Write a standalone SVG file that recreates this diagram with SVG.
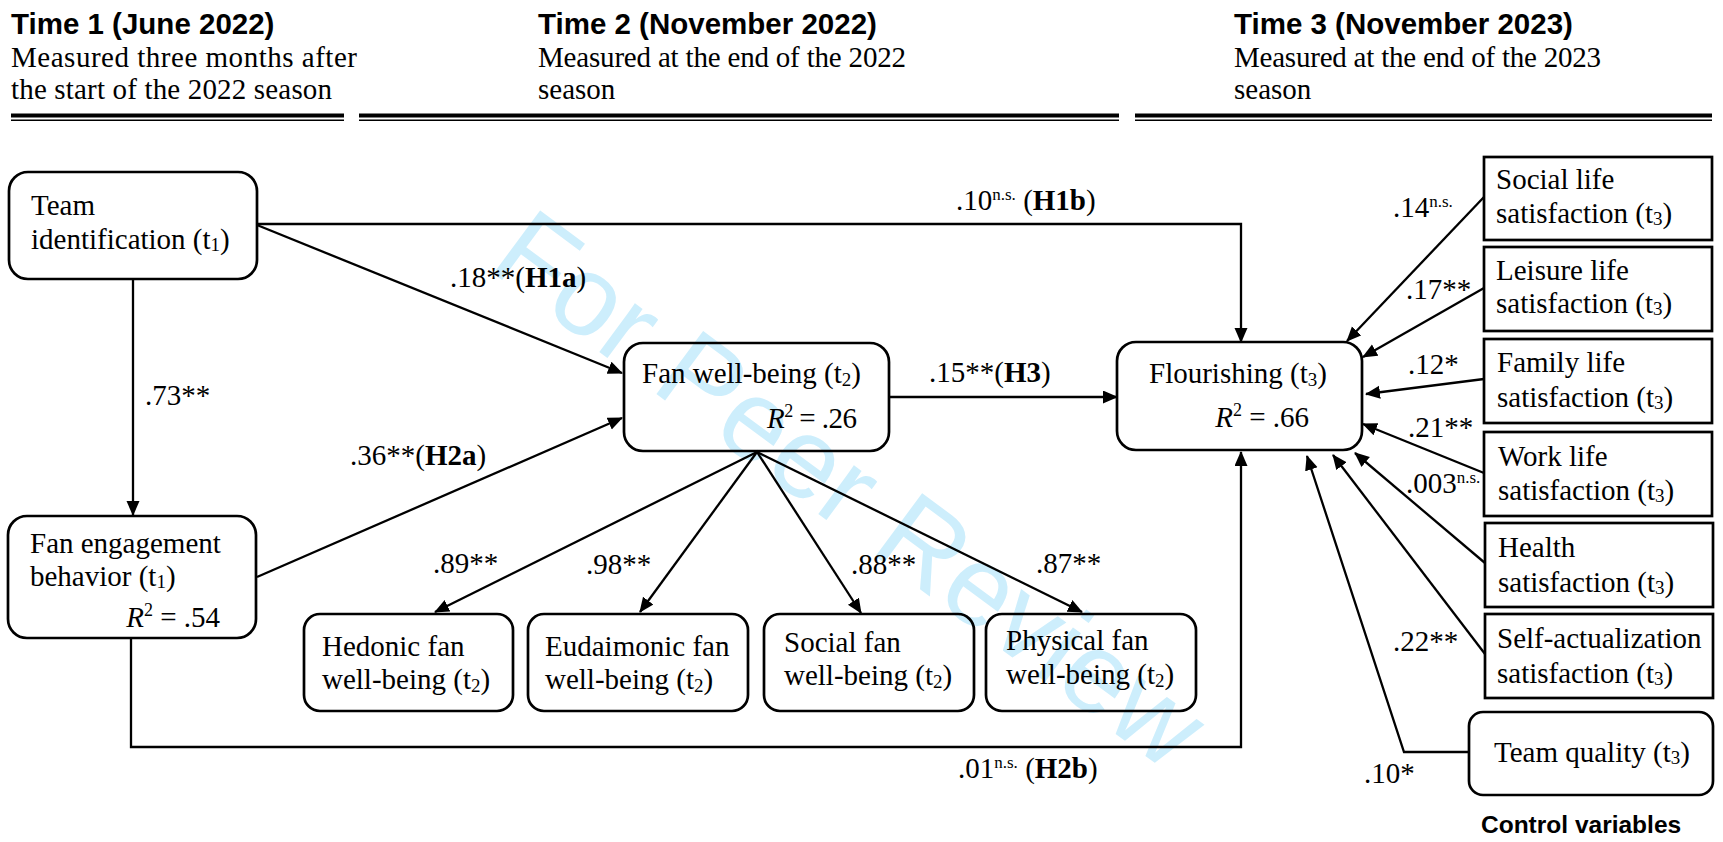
<svg xmlns="http://www.w3.org/2000/svg" width="1723" height="842" viewBox="0 0 1723 842">
<defs>
<marker id="ah" markerUnits="userSpaceOnUse" markerWidth="16" markerHeight="14" refX="14" refY="6.5" orient="auto">
<path d="M0,0 L15,6.5 L0,13 z" fill="#000"/>
</marker>
<style>
.box{fill:none;stroke:#000;stroke-width:2.7}
.t{font-family:"Liberation Serif","Times New Roman",serif;font-size:29px;fill:#000}
.h{font-family:"Liberation Sans",Arial,sans-serif;font-weight:bold;font-size:29.5px;fill:#000}
.c{stroke:#000;stroke-width:2.3;fill:none;marker-end:url(#ah)}
.wm{font-family:"Liberation Sans",Arial,sans-serif;font-size:114px;fill:#cdeefc}
.sub{font-size:19px}
.sup{font-size:18px}
.ns{font-size:17px}
.b{font-weight:bold}
.i{font-style:italic}
</style>
</defs>
<rect width="1723" height="842" fill="#fff"/>
<text class="wm" transform="translate(486,268) rotate(36.5)">For Peer Review</text>

<g id="header">
<text class="h" x="11" y="34">Time 1 (June 2022)</text>
<text class="t" x="11" y="67" textLength="346" lengthAdjust="spacing">Measured three months after</text>
<text class="t" x="11" y="99" textLength="321" lengthAdjust="spacing">the start of the 2022 season</text>
<text class="h" x="538" y="34">Time 2 (November 2022)</text>
<text class="t" x="538" y="67" textLength="368" lengthAdjust="spacing">Measured at the end of the 2022</text>
<text class="t" x="538" y="99">season</text>
<text class="h" x="1234" y="34">Time 3 (November 2023)</text>
<text class="t" x="1234" y="67" textLength="367" lengthAdjust="spacing">Measured at the end of the 2023</text>
<text class="t" x="1234" y="99">season</text>
<rect x="11" y="113.5" width="333" height="4" fill="#000"/>
<rect x="11" y="119.5" width="333" height="1.5" fill="#000"/>
<rect x="359" y="113.5" width="760" height="4" fill="#000"/>
<rect x="359" y="119.5" width="760" height="1.5" fill="#000"/>
<rect x="1135" y="113.5" width="577" height="4" fill="#000"/>
<rect x="1135" y="119.5" width="577" height="1.5" fill="#000"/>
</g>

<g id="connectors">
<path class="c" d="M257,224 H1241 V342"/>
<line class="c" x1="257" y1="225" x2="622" y2="373"/>
<line class="c" x1="133" y1="279" x2="133" y2="515"/>
<line class="c" x1="257" y1="577" x2="622" y2="418"/>
<line class="c" x1="889" y1="397" x2="1117" y2="397"/>
<line class="c" x1="757" y1="452" x2="435" y2="612"/>
<line class="c" x1="757" y1="452" x2="640" y2="612"/>
<line class="c" x1="757" y1="452" x2="861" y2="613"/>
<line class="c" x1="757" y1="452" x2="1082" y2="612"/>
<path class="c" d="M131,638 V747 H1241 V452"/>
<line class="c" x1="1484" y1="197" x2="1347" y2="341"/>
<line class="c" x1="1484" y1="288" x2="1363" y2="357"/>
<line class="c" x1="1484" y1="379" x2="1366" y2="394"/>
<line class="c" x1="1484" y1="473" x2="1363" y2="424"/>
<line class="c" x1="1485" y1="563" x2="1355" y2="453"/>
<line class="c" x1="1485" y1="654" x2="1333" y2="455"/>
<path class="c" d="M1469,752 H1404 L1307,456"/>
</g>

<g id="labels">
<text class="t" x="956" y="210">.10<tspan class="ns" dy="-10">n.s.</tspan><tspan dy="10"> (</tspan><tspan class="b">H1b</tspan>)</text>
<text class="t" x="450" y="287">.18**(<tspan class="b">H1a</tspan>)</text>
<text class="t" x="145" y="405">.73**</text>
<text class="t" x="350" y="465">.36**(<tspan class="b">H2a</tspan>)</text>
<text class="t" x="929" y="382">.15**(<tspan class="b">H3</tspan>)</text>
<text class="t" x="433" y="573">.89**</text>
<text class="t" x="586" y="574">.98**</text>
<text class="t" x="851" y="574">.88**</text>
<text class="t" x="1036" y="573">.87**</text>
<text class="t" x="958" y="778">.01<tspan class="ns" dy="-10">n.s.</tspan><tspan dy="10"> (</tspan><tspan class="b">H2b</tspan>)</text>
<text class="t" x="1393" y="217">.14<tspan class="ns" dy="-10">n.s.</tspan></text>
<text class="t" x="1406" y="299">.17**</text>
<text class="t" x="1408" y="374">.12*</text>
<text class="t" x="1408" y="437">.21**</text>
<text class="t" x="1406" y="493">.003<tspan class="ns" dy="-10">n.s.</tspan></text>
<text class="t" x="1393" y="651">.22**</text>
<text class="t" x="1364" y="783">.10*</text>
</g>

<g id="team-identification">
<rect class="box" x="9" y="172" width="248" height="107" rx="19"/>
<text class="t" x="31" y="215">Team</text>
<text class="t" x="31" y="249">identification (t<tspan class="sub" dy="2">1</tspan><tspan dy="-2">)</tspan></text>
</g>
<g id="fan-engagement">
<rect class="box" x="8" y="516" width="248" height="122" rx="19"/>
<text class="t" x="30" y="553">Fan engagement</text>
<text class="t" x="30" y="586">behavior (t<tspan class="sub" dy="2">1</tspan><tspan dy="-2">)</tspan></text>
<text class="t" x="220" y="627" text-anchor="end"><tspan class="i">R</tspan><tspan class="sup" dy="-11">2</tspan><tspan dy="11"> = .54</tspan></text>
</g>
<g id="fan-well-being">
<rect class="box" x="624" y="343" width="265" height="108" rx="19"/>
<text class="t" x="642" y="383">Fan well-being (t<tspan class="sub" dy="3">2</tspan><tspan dy="-3">)</tspan></text>
<text class="t" x="767" y="428" textLength="90" lengthAdjust="spacing"><tspan class="i">R</tspan><tspan class="sup" dy="-11">2</tspan><tspan dy="11"> = .26</tspan></text>
</g>
<g id="flourishing">
<rect class="box" x="1117" y="342" width="245" height="108" rx="19"/>
<text class="t" x="1149" y="383">Flourishing (t<tspan class="sub" dy="3">3</tspan><tspan dy="-3">)</tspan></text>
<text class="t" x="1309" y="427" text-anchor="end"><tspan class="i">R</tspan><tspan class="sup" dy="-11">2</tspan><tspan dy="11"> = .66</tspan></text>
</g>
<g id="hedonic">
<rect class="box" x="304" y="614" width="209" height="97" rx="16"/>
<text class="t" x="322" y="656">Hedonic fan</text>
<text class="t" x="322" y="689">well-being (t<tspan class="sub" dy="3">2</tspan><tspan dy="-3">)</tspan></text>
</g>
<g id="eudaimonic">
<rect class="box" x="528" y="614" width="220" height="97" rx="16"/>
<text class="t" x="545" y="656">Eudaimonic fan</text>
<text class="t" x="545" y="689">well-being (t<tspan class="sub" dy="3">2</tspan><tspan dy="-3">)</tspan></text>
</g>
<g id="social-fan">
<rect class="box" x="764" y="614" width="210" height="97" rx="16"/>
<text class="t" x="784" y="652">Social fan</text>
<text class="t" x="784" y="685">well-being (t<tspan class="sub" dy="3">2</tspan><tspan dy="-3">)</tspan></text>
</g>
<g id="physical-fan">
<rect class="box" x="986" y="614" width="210" height="97" rx="16"/>
<text class="t" x="1006" y="650">Physical fan</text>
<text class="t" x="1006" y="684">well-being (t<tspan class="sub" dy="3">2</tspan><tspan dy="-3">)</tspan></text>
</g>
<g id="social-life">
<rect class="box" x="1484" y="157" width="228" height="83"/>
<text class="t" x="1496" y="189">Social life</text>
<text class="t" x="1496" y="223">satisfaction (t<tspan class="sub" dy="2">3</tspan><tspan dy="-2">)</tspan></text>
</g>
<g id="leisure-life">
<rect class="box" x="1484" y="247" width="228" height="84"/>
<text class="t" x="1496" y="280">Leisure life</text>
<text class="t" x="1496" y="313">satisfaction (t<tspan class="sub" dy="2">3</tspan><tspan dy="-2">)</tspan></text>
</g>
<g id="family-life">
<rect class="box" x="1484" y="339" width="228" height="84"/>
<text class="t" x="1497" y="372">Family life</text>
<text class="t" x="1497" y="407">satisfaction (t<tspan class="sub" dy="2">3</tspan><tspan dy="-2">)</tspan></text>
</g>
<g id="work-life">
<rect class="box" x="1484" y="432" width="228" height="84"/>
<text class="t" x="1498" y="466">Work life</text>
<text class="t" x="1498" y="500">satisfaction (t<tspan class="sub" dy="2">3</tspan><tspan dy="-2">)</tspan></text>
</g>
<g id="health">
<rect class="box" x="1485" y="523" width="228" height="84"/>
<text class="t" x="1498" y="557">Health</text>
<text class="t" x="1498" y="592">satisfaction (t<tspan class="sub" dy="2">3</tspan><tspan dy="-2">)</tspan></text>
</g>
<g id="self-actualization">
<rect class="box" x="1485" y="614" width="228" height="84"/>
<text class="t" x="1497" y="648">Self-actualization</text>
<text class="t" x="1497" y="683">satisfaction (t<tspan class="sub" dy="2">3</tspan><tspan dy="-2">)</tspan></text>
</g>
<g id="team-quality">
<rect class="box" x="1469" y="712" width="244" height="83" rx="14"/>
<text class="t" x="1494" y="762">Team quality (t<tspan class="sub" dy="2">3</tspan><tspan dy="-2">)</tspan></text>
</g>
<g id="control-label">
<text class="h" x="1481" y="833" style="font-size:24.5px">Control variables</text>
</g>
</svg>
